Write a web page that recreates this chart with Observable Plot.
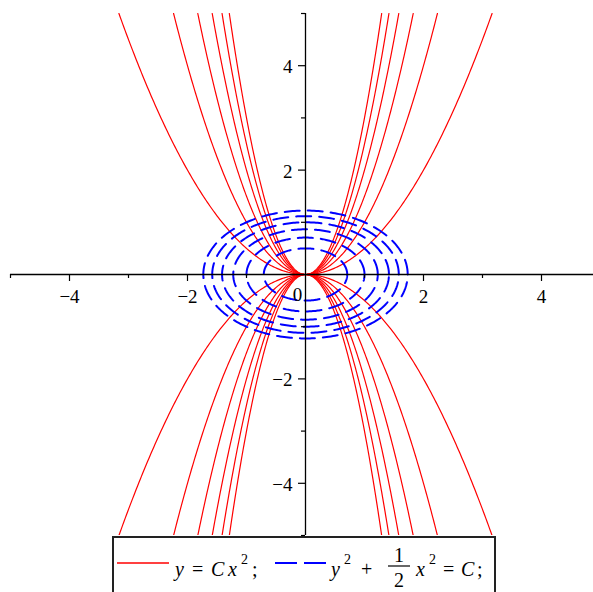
<!DOCTYPE html>
<html><head><meta charset="utf-8">
<script src="https://cdn.jsdelivr.net/npm/d3@7"></script>
<script src="https://cdn.jsdelivr.net/npm/@observablehq/plot@0.6"></script>
<style>
html,body{margin:0;padding:0;background:#fff;overflow:hidden;}
#chart svg{display:block;}
#chart svg text{font-family:"Liberation Serif","Times New Roman",Times,serif;}
</style></head><body><div id="chart"></div>
<script>
// Data: constants C of the two curve families
const parabolaC = [0.5, 1, 1.5, 2, 2.5, 3, -0.5, -1, -1.5, -2, -2.5, -3]; // y = C x^2
const ellipseC = [0.25, 0.5, 0.75, 1, 1.25, 1.5];                         // y^2 + x^2/2 = C
const xMajorTicks = [-4, -2, 2, 4];
const xMinorTicks = [-5, -3, -1, 1, 3];
const yMajorTicks = [-4, -2, 2, 4];
const yMinorTicks = [-5, -3, -1, 1, 3, 5];
const originLabel = ["0"];
const xDomain = [-5, 5];
const yDomain = [-5, 5];

const N = 301;
const parabolaPts = parabolaC.flatMap(C => {
  const xm = Math.sqrt(yDomain[1] / Math.abs(C));
  return d3.range(N).map(i => { const x = -xm + 2 * xm * i / (N - 1); return {C, x, y: C * x * x}; });
});
const ellipsePts = ellipseC.flatMap(C => d3.range(N).map(i => {
  const t = 2 * Math.PI * i / (N - 1);
  return {C, x: Math.sqrt(2 * C) * Math.cos(t), y: Math.sqrt(C) * Math.sin(t)};
}));

const fmt = d3.format("d");
const font = "'Liberation Serif', 'Times New Roman', Times, serif";

const plot = Plot.plot({
  width: 593, height: 536,
  marginLeft: 10, marginRight: 0, marginTop: 13, marginBottom: 1,
  x: {domain: xDomain, range: [10, 600], axis: null},
  y: {domain: yDomain, axis: null},
  marks: [
    Plot.line(parabolaPts, {x: "x", y: "y", z: "C", stroke: "#ff0000", strokeWidth: 1.2, clip: true}),
    Plot.line(ellipsePts, {x: "x", y: "y", z: "C", stroke: "#0000ff", strokeWidth: 2, strokeDasharray: "15,8", clip: true}),
    Plot.ruleY([0], {stroke: "#000", strokeWidth: 1.3}),
    Plot.ruleX([0], {stroke: "#000", strokeWidth: 1.3}),
    Plot.ruleX(xMajorTicks, {x: d => d, y1: () => 0, y2: () => 0, insetTop: 0, insetBottom: -7, stroke: "#000", strokeWidth: 1.2}),
    Plot.ruleX(xMinorTicks, {x: d => d, y1: () => 0, y2: () => 0, insetTop: 0, insetBottom: -4, stroke: "#000", strokeWidth: 1.2}),
    Plot.ruleY(yMajorTicks, {y: d => d, x1: () => 0, x2: () => 0, insetLeft: -7, insetRight: 0, stroke: "#000", strokeWidth: 1.2}),
    Plot.ruleY(yMinorTicks, {y: d => d, x1: () => 0, x2: () => 0, insetLeft: -4, insetRight: 0, stroke: "#000", strokeWidth: 1.2}),
    Plot.text(xMajorTicks, {x: d => d, y: () => 0, text: d => fmt(d), dy: 22, lineAnchor: "middle", fontFamily: font, fontSize: 19, fill: "#000"}),
    Plot.text(yMajorTicks, {x: () => 0, y: d => d, text: d => fmt(d), textAnchor: "end", dx: -13, dy: 1.5, lineAnchor: "middle", fontFamily: font, fontSize: 19, fill: "#000"}),
    Plot.text(originLabel, {x: () => 0, y: () => 0, text: d => d, dx: -8, dy: 20, lineAnchor: "middle", fontFamily: font, fontSize: 19, fill: "#000"})
  ]
});
document.getElementById("chart").appendChild(plot);

// Legend below the plot
const leg = d3.select("#chart").append("svg")
  .attr("width", 593).attr("height", 56)
  .style("display", "block")
  .attr("font-family", font).attr("font-size", 20);
leg.append("rect").attr("x", 113).attr("y", 1).attr("width", 382).attr("height", 80)
  .attr("fill", "none").attr("stroke", "#222").attr("stroke-width", 2);
leg.append("line").attr("x1", 117).attr("x2", 169).attr("y1", 27).attr("y2", 27)
  .attr("stroke", "#ff0000").attr("stroke-width", 1.5);
leg.append("line").attr("x1", 275).attr("x2", 327).attr("y1", 27).attr("y2", 27)
  .attr("stroke", "#0000ff").attr("stroke-width", 2).attr("stroke-dasharray", "22,7");
const pieces = [
  {t: "y", x: 175, y: 40, it: true},
  {t: "=", x: 192, y: 40},
  {t: "C", x: 211, y: 40, it: true},
  {t: "x", x: 228, y: 40, it: true},
  {t: "2", x: 241, y: 28, s: 14},
  {t: ";", x: 252, y: 40},
  {t: "y", x: 331, y: 40, it: true},
  {t: "2", x: 344, y: 28, s: 14},
  {t: "+", x: 361, y: 40},
  {t: "1", x: 399, y: 26, a: "middle"},
  {t: "2", x: 399, y: 51, a: "middle"},
  {t: "x", x: 416, y: 40, it: true},
  {t: "2", x: 429, y: 28, s: 14},
  {t: "=", x: 443, y: 40},
  {t: "C", x: 461, y: 40, it: true},
  {t: ";", x: 477, y: 40}
];
leg.selectAll("text.p").data(pieces).join("text")
  .attr("x", d => d.x).attr("y", d => d.y)
  .attr("font-style", d => d.it ? "italic" : "normal")
  .attr("font-size", d => d.s || 20)
  .attr("text-anchor", d => d.a || "start")
  .attr("fill", "#000")
  .text(d => d.t);
leg.append("line").attr("x1", 388).attr("x2", 410).attr("y1", 30).attr("y2", 30)
  .attr("stroke", "#000").attr("stroke-width", 1.2);
</script></body></html>
